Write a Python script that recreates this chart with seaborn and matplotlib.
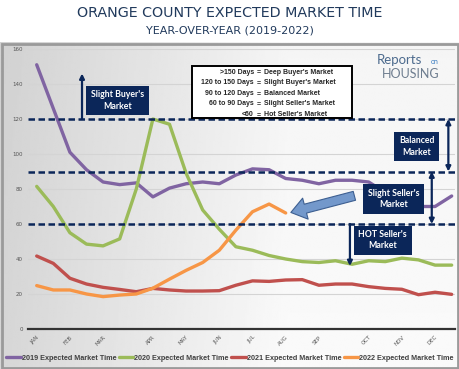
import numpy as np
import pandas as pd
import matplotlib.pyplot as plt
import seaborn as sns
from matplotlib.patches import FancyArrowPatch, Rectangle

# biweekly readings, 26 per year; month labels sit on the first reading of each month
month_labels = ["JAN", "FEB", "MAR", "APR", "MAY", "JUN", "JUL", "AUG", "SEP", "OCT", "NOV", "DEC"]
month_pos = [0, 2, 4, 7, 9, 11, 13, 15, 17, 20, 22, 24]

days_2019 = [151, 126, 101, 91, 84, 82.5, 83.5, 75.5, 80.5, 83, 84, 83, 88, 91.5, 91, 86,
             85, 83, 85, 85, 84, 78, 72, 70, 70, 76]
days_2020 = [81.5, 70, 55, 48.5, 47.5, 51.5, 80, 120, 117, 89, 68, 57, 47, 45, 42, 40,
             38.5, 38, 39, 37, 39, 38.5, 40.5, 39.5, 36.5, 36.5]
days_2021 = [41.7, 37.5, 29, 25.7, 23.8, 22.6, 21.3, 23.2, 22.3, 21.7, 21.7, 21.9, 25, 27.5,
             27.2, 28, 28.2, 25, 25.7, 25.7, 24.2, 23.2, 22.7, 19.6, 21, 19.8]
days_2022 = [24.8, 22.3, 22.3, 20, 18.5, 19.4, 20, 23.3, 28.5, 33.5, 38, 45, 56.5, 67, 71.4, 66.3]

series_names = ["2019 Expected Market Time", "2020 Expected Market Time",
                "2021 Expected Market Time", "2022 Expected Market Time"]
series_colors = ["#8064a2", "#9bbb59", "#c0504d", "#f79646"]

thresholds = [120, 90, 60]
key_left = [">150 Days", "120 to 150 Days", "90 to 120 Days", "60 to 90 Days", "<60"]
key_right = ["Deep Buyer's Market", "Slight Buyer's Market", "Balanced Market",
             "Slight Seller's Market", "Hot Seller's Market"]

navy = "#0b2659"

frames = []
for name, vals in zip(series_names, [days_2019, days_2020, days_2021, days_2022]):
    frames.append(pd.DataFrame({"period": np.arange(len(vals)), "days": vals, "series": name}))
df = pd.concat(frames, ignore_index=True)

sns.set_style("white")
plt.rcParams["font.family"] = ["DejaVu Sans"]

fig = plt.figure(figsize=(4.6, 3.69), dpi=100)

# grey gradient panel behind the chart
bg = fig.add_axes([0.0, 0.0, 1.0, 0.886], zorder=-5)
grad = np.linspace(0, 1, 256)
xx, yy = np.meshgrid(grad, grad)
shade = 0.84 + 0.14 * np.clip(xx * 1.6, 0, 1) - 0.02 * (1 - yy)
bg.imshow(shade, cmap="gray", vmin=0, vmax=1, aspect="auto", extent=[0, 1, 0, 1])
bg.set_axis_off()
fig.add_artist(Rectangle((0.004, 0.004), 0.992, 0.878, transform=fig.transFigure,
                         fill=False, ec="#9a9a9a", lw=2.0, zorder=-4))

fig.text(0.5, 0.966, "ORANGE COUNTY EXPECTED MARKET TIME", ha="center", va="center",
         fontsize=10.3, color="#213a5c", family="DejaVu Sans")
fig.text(0.5, 0.918, "YEAR-OVER-YEAR (2019-2022)", ha="center", va="center",
         fontsize=8, color="#213a5c", family="DejaVu Sans")

ax = fig.add_axes([28.4 / 460, 40 / 369, 426.6 / 460, 280 / 369])
ax.set_facecolor("none")

sns.lineplot(data=df, x="period", y="days", hue="series", palette=series_colors,
             linewidth=2.4, ax=ax, legend=True)

for t in thresholds:
    ax.axhline(t, color=navy, lw=1.8, dashes=(2.6, 1.4), zorder=3)

ax.set_xlim(-0.5, 25.2)
ax.set_ylim(0, 160)
ax.set_yticks(range(0, 161, 20))
ax.set_xticks(month_pos)
ax.set_xticklabels(month_labels, rotation=45, ha="right", rotation_mode="anchor")
ax.tick_params(axis="both", labelsize=4, colors="#555555", length=0, pad=4)
ax.grid(axis="y", color="#d4d4d4", lw=0.8)
ax.set_xlabel("")
ax.set_ylabel("")
for side in ["top", "right", "left"]:
    ax.spines[side].set_visible(False)
ax.spines["bottom"].set_color("#333333")
ax.spines["bottom"].set_linewidth(1.6)

# centre the legend on the figure rather than the axes
legend_x = (230 - 28.4) / 426.6
sns.move_legend(ax, "lower center", bbox_to_anchor=(legend_x, -0.14), ncol=4, frameon=False,
                title=None, handlelength=2.0, handletextpad=0.1, columnspacing=0.35,
                prop={"size": 5.25, "weight": "bold", "family": "Liberation Sans"})
for txt in ax.get_legend().get_texts():
    txt.set_color("#404040")

box_kw = dict(ha="center", va="center", color="white", fontsize=6.3, fontweight="bold",
              family="Lato", linespacing=1.3, zorder=6)

def market_box(x, y, label, w_pad=0.55):
    ax.text(x, y, label, bbox=dict(boxstyle=f"square,pad={w_pad}", fc=navy, ec="none"), **box_kw)

def arrow(x, y0, y1, style="-|>"):
    ax.add_patch(FancyArrowPatch((x, y0), (x, y1), arrowstyle=style, mutation_scale=7,
                                 color=navy, lw=1.6, zorder=6, shrinkA=0, shrinkB=0))

market_box(4.85, 130.6, "Slight Buyer's\nMarket")
arrow(2.73, 120, 146)

market_box(22.9, 104.3, "Balanced\nMarket")
arrow(24.8, 90, 120, "<|-|>")

market_box(21.5, 74.3, "Slight Seller's\nMarket")
arrow(23.8, 60, 90, "<|-|>")

market_box(20.85, 50.6, "HOT Seller's\nMarket")
arrow(18.87, 60, 36)

# blue pointer toward the 2022 line
ax.add_patch(FancyArrowPatch((19.3, 76.5), (15.15, 66.2),
                             arrowstyle="simple,head_length=0.9,head_width=1.3,tail_width=0.55",
                             mutation_scale=12, fc="#7398cb", ec="#3d5f91", lw=0.8, zorder=5))

# key box
fig.add_artist(Rectangle((192 / 460, 1 - 118 / 369), 160 / 460, 52 / 369,
                         transform=fig.transFigure, fc="white", ec="black", lw=1.4, zorder=7))
for i, (lt, rt) in enumerate(zip(key_left, key_right)):
    yy_ = 1 - (72 + i * 10.6) / 369
    fig.text(254 / 460, yy_, lt, ha="right", va="center", fontsize=5, fontweight="bold",
             family="Liberation Sans", zorder=8)
    fig.text(259 / 460, yy_, "=", ha="center", va="center", fontsize=5, fontweight="bold",
             family="Liberation Sans", zorder=8)
    fig.text(264 / 460, yy_, rt, ha="left", va="center", fontsize=5, fontweight="bold",
             family="Liberation Sans", zorder=8)

# logo
fig.text(377 / 460, 1 - 60 / 369, "Reports", ha="left", va="center", fontsize=9.5,
         color="#4d6b8e", family="Lato")
fig.text(431 / 460, 1 - 62 / 369, "on", ha="left", va="center", fontsize=5,
         color="#3a7cc0", family="Lato")
fig.text(382 / 460, 1 - 74 / 369, "HOUSING", ha="left", va="center", fontsize=9,
         color="#6e7d8f", family="Lato")

fig.savefig("out.png", dpi=100)
